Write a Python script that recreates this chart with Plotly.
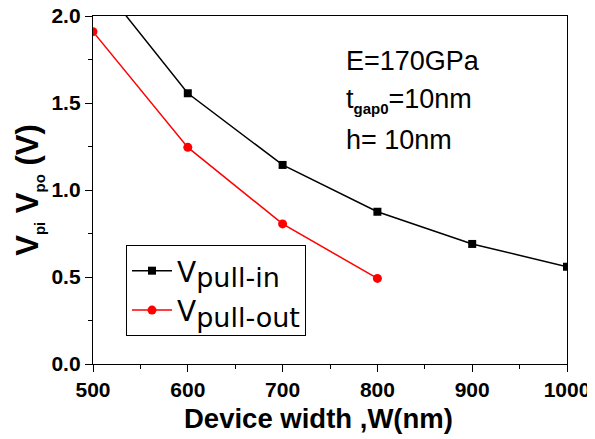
import plotly.graph_objects as go

width_nm = [500, 600, 700, 800, 900, 1000]
v_pull_in = [2.24, 1.556, 1.144, 0.875, 0.69, 0.559]
width_out = [500, 600, 700, 800]
v_pull_out = [1.91, 1.245, 0.805, 0.492]

x_ticks = [500, 600, 700, 800, 900, 1000]
y_ticks = [0.0, 0.5, 1.0, 1.5, 2.0]
y_ticklabels = ["0.0", "0.5", "1.0", "1.5", "2.0"]

SUB = "<sub><span style='font-size:27px'>{}</span></sub>"

fig = go.Figure()
fig.add_trace(go.Scatter(
    x=width_nm, y=v_pull_in, mode="lines+markers",
    name="V" + SUB.format("pull-in"),
    line=dict(color="black", width=1.5),
    marker=dict(symbol="square", size=8, color="black"),
))
fig.add_trace(go.Scatter(
    x=width_out, y=v_pull_out, mode="lines+markers",
    name="V" + SUB.format("pull-out"),
    line=dict(color="#ff0000", width=1.5),
    marker=dict(symbol="circle", size=9, color="#ff0000"),
))

axis_common = dict(
    showgrid=False, zeroline=False, showline=True, linecolor="black", linewidth=1.3,
    mirror=True, ticks="outside", ticklen=7, tickwidth=1.3, tickcolor="black",
    tickfont=dict(family="Liberation Sans", size=21, color="black", weight="bold"),
    automargin=False, ticklabeloverflow="allow",
)

fig.update_xaxes(
    range=[500, 1000], tickvals=x_ticks, ticktext=[str(v) for v in x_ticks],
    minor=dict(dtick=50, ticks="outside", ticklen=4, tickwidth=1.3, tickcolor="black"),
    **axis_common,
)
fig.update_yaxes(
    range=[0, 2.0], tickvals=y_ticks, ticktext=y_ticklabels,
    minor=dict(dtick=0.25, ticks="outside", ticklen=4, tickwidth=1.3, tickcolor="black"),
    title=dict(
        text="<b>V<sub><span style='font-size:15px'>pi</span></sub> V<sub><span style='font-size:15px'>po</span></sub> (V)</b>",
        font=dict(family="Liberation Sans", size=31, color="black"), standoff=3),
    **axis_common,
)

# x-axis title (placed slightly left of centre, as in the reference)
fig.add_annotation(xref="paper", yref="paper", x=(318 - 93) / 474, y=-0.105,
                   xanchor="center", yanchor="top", showarrow=False,
                   text="<b>Device width ,W(nm)</b>",
                   font=dict(family="Liberation Sans", size=27.5, color="black"))

ann_font = dict(family="Liberation Sans", size=27, color="black")
fig.add_annotation(xref="paper", yref="paper", x=0.53, y=(364 - 61) / 348,
                   xanchor="left", yanchor="middle", showarrow=False,
                   text="E=170GPa", font=ann_font)
fig.add_annotation(xref="paper", yref="paper", x=0.53, y=(364 - 101) / 348,
                   xanchor="left", yanchor="middle", showarrow=False,
                   text="t<sub><span style='font-size:15px'><b>gap0</b></span></sub>=10nm", font=ann_font)
fig.add_annotation(xref="paper", yref="paper", x=0.53, y=(364 - 140) / 348,
                   xanchor="left", yanchor="middle", showarrow=False,
                   text="h= 10nm", font=ann_font)

# the page body has an 8px margin, so margins are adjusted to compensate
fig.update_layout(
    width=595, height=439,
    margin=dict(l=85, r=36, t=8, b=83),
    plot_bgcolor="white", paper_bgcolor="white",
    legend=dict(x=0.0696, y=0.342, xanchor="left", yanchor="top",
                bordercolor="black", borderwidth=1, bgcolor="white",
                font=dict(family="DejaVu Sans", size=28, color="black"),
                tracegroupgap=0, itemwidth=40),
    showlegend=True,
)

fig.write_html("out.html")
